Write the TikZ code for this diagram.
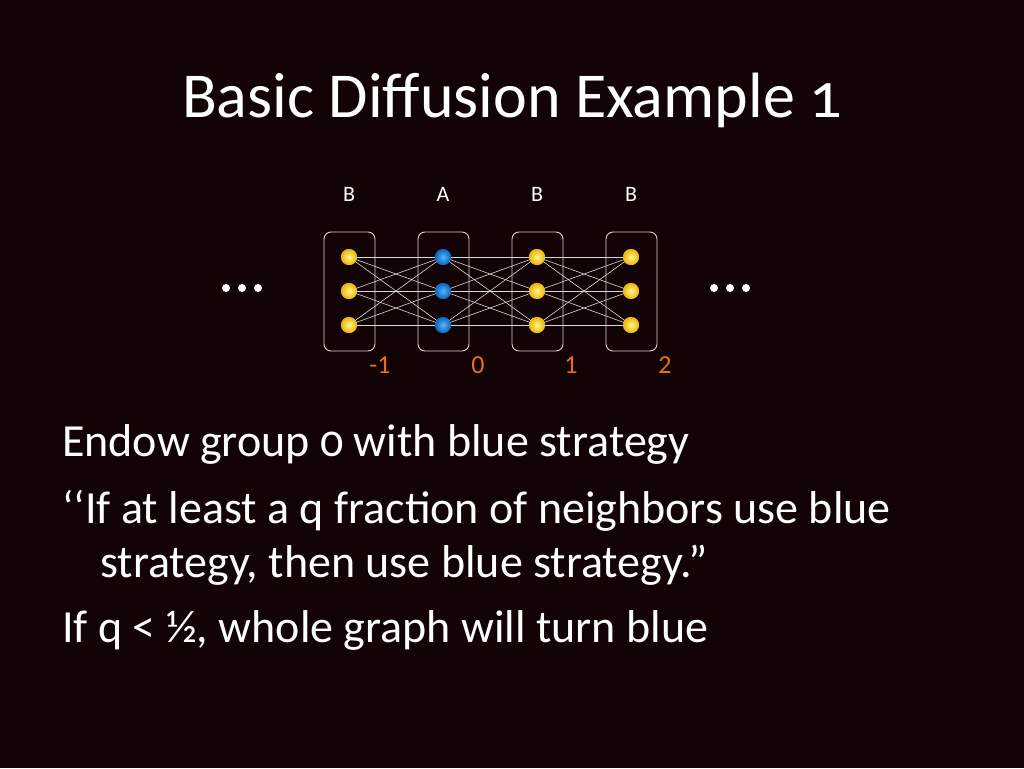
\documentclass[tikz,border=0pt]{standalone}
\usepackage{fontspec}
\setmainfont[Numbers=OldStyle]{Carlito}
\newfontfamily\linfont{Carlito}
\begin{document}
\begin{tikzpicture}[x=1pt,y=-1pt,
  bg/.style={fill={rgb,255:red,18;green,4;blue,6}},
  grp/.style={draw={rgb,255:red,220;green,210;blue,205},line width=0.9pt,rounded corners=7pt},
  ynode/.style={circle,minimum size=16pt,inner sep=0pt,shading=radial,inner color={rgb,255:red,255;green,245;blue,150},outer color={rgb,255:red,235;green,180;blue,0}},
  bnode/.style={circle,minimum size=16pt,inner sep=0pt,shading=radial,inner color={rgb,255:red,90;green,180;blue,250},outer color={rgb,255:red,10;green,100;blue,190}},
  edge/.style={draw=white!85!black,line width=0.6pt},
  txt/.style={text=white,anchor=base west,inner sep=0pt,font=\fontsize{46}{52}\selectfont},
  lbl/.style={text=white,font=\linfont\fontsize{22}{26}\selectfont},
  num/.style={text={rgb,255:red,235;green,110;blue,20},font=\linfont\fontsize{26}{30}\selectfont},
  dotc/.style={circle,fill=white,inner sep=0pt,minimum size=8pt}]
\path[bg] (0,0) rectangle (1024,768);
\useasboundingbox (0,0) rectangle (1024,768);
\node[text=white,font=\fontsize{64}{72}\selectfont,anchor=base] (title) at (512,117) {Basic Diffusion Example 1};
\foreach \c/\x/\l in {1/349/B,2/443/A,3/537/B,4/631/B}{
  \node[lbl] (L\c) at (\x,194) {\l};
  \draw[grp] (\x-25,232) rectangle (\x+26,351);
}
\foreach \r/\y in {1/257,2/291,3/325}{
  \node[ynode] (n1\r) at (349,\y) {};
  \node[bnode] (n2\r) at (443,\y) {};
  \node[ynode] (n3\r) at (537,\y) {};
  \node[ynode] (n4\r) at (631,\y) {};
}
\foreach \a/\b in {1/2,2/3,3/4}{
  \foreach \i in {1,2,3}{\foreach \j in {1,2,3}{
    \draw[edge] (n\a\i.center) -- (n\b\j.center);
  }}}
\foreach \r/\y in {1/257,2/291,3/325}{
  \node[ynode] at (349,\y) {};
  \node[bnode] at (443,\y) {};
  \node[ynode] at (537,\y) {};
  \node[ynode] at (631,\y) {};
}
\node[num] (m1) at (380,365) {-1};
\node[num] (z0) at (478,365) {0};
\node[num] (p1) at (571,365) {1};
\node[num] (p2) at (665,365) {2};
\foreach \x in {226,242,258}{\node[dotc] at (\x,288) {};}
\foreach \x in {714,730,746}{\node[dotc] at (\x,288) {};}
\node[txt] (t1) at (62,456) {Endow group 0 with blue strategy};
\node[txt] (t2) at (62,523) {\char"60\kern0pt\char"60\kern0pt If at least a q fraction of neighbors use blue};
\node[txt] (t3) at (100,577) {strategy, then use blue strategy.''};
\node[txt] (t4) at (62,642) {If q < ½, whole graph will turn blue};
\end{tikzpicture}
\end{document}
